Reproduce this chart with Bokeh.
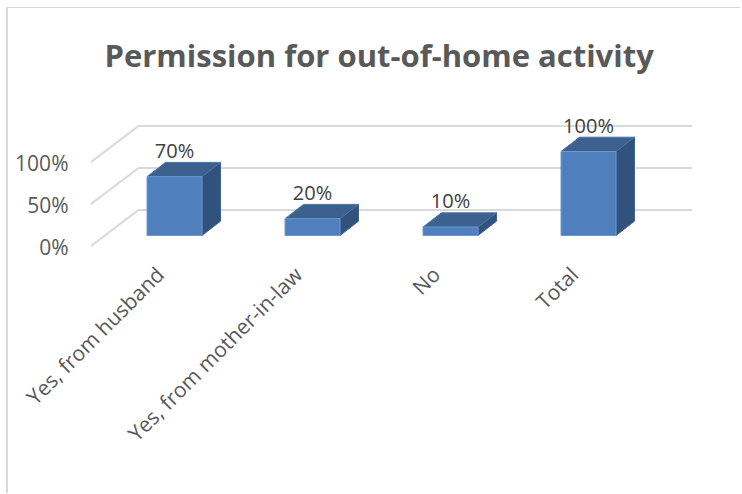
from bokeh.plotting import figure
from bokeh.models import Range1d, FixedTicker, Label
from bokeh.core.properties import value
from bokeh.embed import file_html
from bokeh.resources import INLINE

title_text = "Permission for out-of-home activity"
categories = ["Yes, from husband", "Yes, from mother-in-law", "No", "Total"]
shares = [0.70, 0.20, 0.10, 1.00]
share_labels = ["70%", "20%", "10%", "100%"]
y_ticks = [0, 0.5, 1.0]
y_tick_labels = {0: "0%", 0.5: "50%", 1.0: "100%"}

# 3-D projection, expressed in pixels per data unit
PX_X = 138.0
PX_Y = 84.0
WALL_DX, WALL_DY = 48 / PX_X, 36.5 / PX_Y      # full floor depth
FRONT_DX, FRONT_DY = 14.5 / PX_X, 11 / PX_Y    # axis front -> bar front
BAR_DX, BAR_DY = 18.5 / PX_X, 14.3 / PX_Y      # bar depth
BAR_W = 55 / PX_X

FONT = "Open Sans"
p = figure(width=734, height=486, output_backend="svg", toolbar_location=None,
           x_range=Range1d((90 - 159.5) / PX_X, (692 - 159.5) / PX_X),
           y_range=Range1d(0, 238 / PX_Y),
           min_border_left=82, min_border_right=50, min_border_top=0, min_border_bottom=248,
           outline_line_color=None, background_fill_color="white", border_fill_color="white")
p.styles = {"border-left": "2px solid #d9d9d9", "border-top": "1px solid #d9d9d9",
            "margin-left": "6px", "margin-top": "7px"}

p.add_layout(Label(x=(104 - 159.5) / PX_X, y=(246 - 54) / PX_Y, text=title_text,
                   text_font=FONT, text_font_style="bold", text_font_size="31px",
                   text_color="#595959", text_align="left", text_baseline="alphabetic"))

p.xgrid.visible = False
p.ygrid.visible = False

xa = p.xaxis[0]
xa.ticker = FixedTicker(ticks=list(range(len(categories))))
xa.major_label_overrides = {i: c for i, c in enumerate(categories)}
xa.major_label_orientation = 0.7854
xa.major_label_standoff = 18
ya = p.yaxis[0]
ya.ticker = FixedTicker(ticks=y_ticks)
ya.major_label_overrides = y_tick_labels
ya.major_label_standoff = 16
for a in (xa, ya):
    a.axis_line_color = None
    a.major_tick_line_color = None
    a.minor_tick_line_color = None
    a.major_label_text_font = FONT
    a.major_label_text_color = "#595959"
    a.major_label_text_font_size = "21px"

# gridlines bent along the floor and back wall
x0 = p.x_range.start
x1 = p.x_range.end
p.multi_line([[x0, x0 + WALL_DX, x1] for _ in y_ticks],
             [[t, t + WALL_DY, t + WALL_DY] for t in y_ticks],
             line_color="#d9d9d9", line_width=2)

for i, v in enumerate(shares):
    l = i + FRONT_DX - BAR_W / 2
    r = l + BAR_W
    b = FRONT_DY
    t = FRONT_DY + v
    p.patch([r, r + BAR_DX, r + BAR_DX, r], [b, b + BAR_DY, t + BAR_DY, t],
            fill_color="#30527c", line_color="#3f6491", line_width=1)
    p.patch([l, r, r + BAR_DX, l + BAR_DX], [t, t, t + BAR_DY, t + BAR_DY],
            fill_color="#3c618e", line_color="#4a72a3", line_width=1)
    p.quad(left=[l], right=[r], bottom=[b], top=[t],
           fill_color="#4f7fbc", line_color="#6d98cf", line_width=1)

p.text([i + FRONT_DX for i in range(len(shares))],
       [FRONT_DY + v + BAR_DY for v in shares],
       text=share_labels, text_align="center", text_baseline="alphabetic", y_offset=-12,
       text_font=value(FONT), text_font_size="20px", text_color="#404040")

open("out.html", "w").write(file_html(p, INLINE))
